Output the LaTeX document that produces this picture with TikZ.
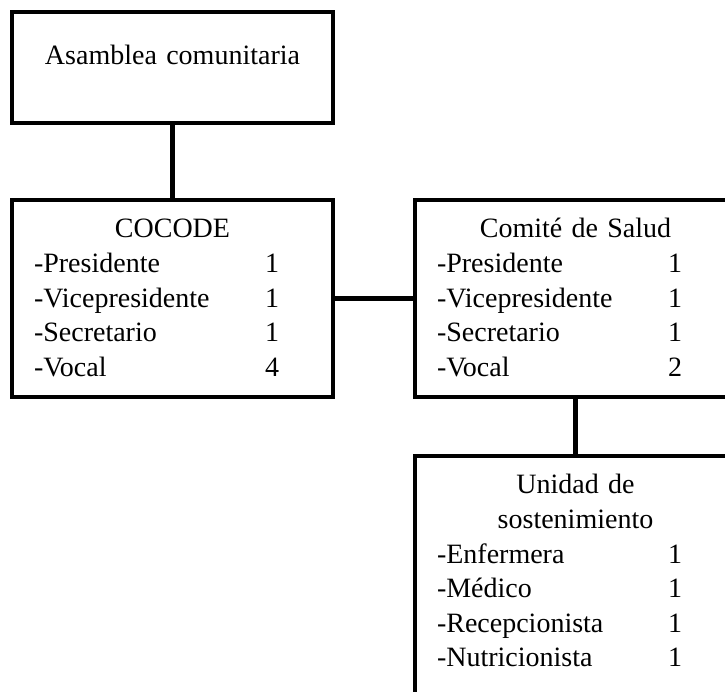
\documentclass[tikz,border=0pt]{standalone}
\usepackage{fontspec}
\setmainfont{Liberation Serif}
\usepackage{tikz}
\usetikzlibrary{positioning}

\newcommand{\cargo}[2]{\hspace*{22pt}\makebox[231pt][l]{#1}#2}
\newcommand{\titulo}[1]{\makebox[\linewidth][c]{#1}}

\begin{document}
\begin{tikzpicture}[x=1pt, y=1pt, line width=4.5pt,
		caja/.style={draw, rectangle, inner sep=0pt, outer sep=0pt, text width=321pt, align=left, font=\fontsize{28}{34.6}\selectfont}]
			\useasboundingbox (0,0) rectangle (725,692);
			\clip (0,0) rectangle (725,692);

			\node[caja, align=center, text height=53pt, text depth=58pt, anchor=north west] (asamblea) at (12,680) {Asamblea comunitaria};
			\node[caja, text height=38pt, text depth=159pt] (cocode) [below=77pt of asamblea]
				{\titulo{COCODE}\\ \cargo{-Presidente}{1}\\ \cargo{-Vicepresidente}{1}\\ \cargo{-Secretario}{1}\\ \cargo{-Vocal}{4}};
			\node[caja, text height=38pt, text depth=159pt] (comite) [right=82pt of cocode]
				{\titulo{Comité de Salud}\\ \cargo{-Presidente}{1}\\ \cargo{-Vicepresidente}{1}\\ \cargo{-Secretario}{1}\\ \cargo{-Vocal}{2}};
			\node[caja, text height=38pt, text depth=230pt] (unidad) [below=59pt of comite]
				{\titulo{Unidad de}\\ \titulo{sostenimiento}\\ \cargo{-Enfermera}{1}\\ \cargo{-Médico}{1}\\ \cargo{-Recepcionista}{1}\\ \cargo{-Nutricionista}{1}};

			\draw (asamblea) -- (cocode);
			\draw (cocode) -- (comite);
			\draw (comite) -- (unidad);
		\end{tikzpicture}
\end{document}
